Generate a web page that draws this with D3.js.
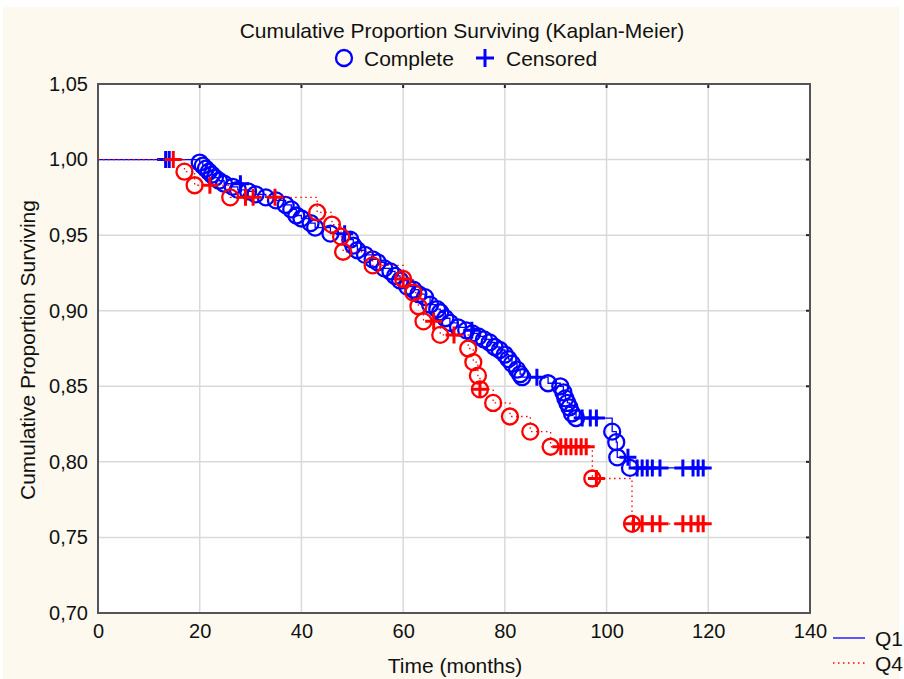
<!DOCTYPE html>
<html>
<head>
<meta charset="utf-8">
<script src="https://cdn.jsdelivr.net/npm/d3@7"></script>
<style>
  body { margin: 0; background: #ffffff; }
  text { font-family: "Liberation Sans", Arial, sans-serif; fill: #111; }
</style>
</head>
<body>
<div id="chart"></div>
<script>
// Q1 group: time (months), survival after event, 1 = complete, 0 = censored
const q1Time = [13.3, 14.0,
  20.0, 20.6, 21.2, 21.8, 22.4, 23.0, 23.8, 24.8, 28.0,
  26.5, 27.5, 29.5, 31.0, 33.0, 35.0,
  36.9, 38.0, 39.0, 40.0, 41.8, 42.7, 45.7, 48.5,
  49.6, 50.2, 51.0, 52.5, 54.0, 55.0, 56.3, 57.5, 58.4, 59.4,
  60.8, 62.0, 63.0, 64.3, 65.3, 66.7, 67.3, 68.3, 69.2, 70.8,
  72.4, 73.5, 73.6, 74.8, 75.9, 77.0, 78.0, 79.0, 80.0, 80.7, 81.4, 82.4, 83.0, 83.4,
  86.3, 88.5, 90.9, 91.5, 91.9, 92.3, 92.7, 93.2, 94.0,
  95.2, 96.8, 98.0,
  101.1, 101.9, 102.1, 104.2, 104.6,
  106, 107, 108, 109, 110.5, 115, 117, 118, 119];
const q1Surv = [1, 1,
  0.998, 0.996, 0.994, 0.992, 0.990, 0.988, 0.986, 0.984, 0.984,
  0.982, 0.980, 0.979, 0.977, 0.975, 0.973,
  0.970, 0.967, 0.963, 0.961, 0.958, 0.955, 0.951, 0.951,
  0.947, 0.943, 0.940, 0.937, 0.934, 0.932, 0.928, 0.926, 0.923, 0.920,
  0.916, 0.914, 0.911, 0.909, 0.904, 0.901, 0.899, 0.895, 0.892, 0.889,
  0.887, 0.887, 0.885, 0.883, 0.881, 0.879, 0.876, 0.874, 0.871, 0.868, 0.865, 0.861, 0.858, 0.856,
  0.856, 0.852, 0.850, 0.846, 0.842, 0.839, 0.836, 0.832, 0.829,
  0.829, 0.829, 0.829,
  0.820, 0.813, 0.803, 0.803, 0.796,
  0.796, 0.796, 0.796, 0.796, 0.796, 0.796, 0.796, 0.796, 0.796];
const q1Event = [0, 0,
  1, 1, 1, 1, 1, 1, 1, 1, 0,
  1, 1, 1, 1, 1, 1,
  1, 1, 1, 1, 1, 1, 1, 0,
  1, 1, 1, 1, 1, 1, 1, 1, 1, 1,
  1, 1, 1, 1, 1, 1, 1, 1, 1, 1,
  1, 0, 1, 1, 1, 1, 1, 1, 1, 1, 1, 1, 1, 1,
  0, 1, 1, 1, 1, 1, 1, 1, 1,
  0, 0, 0,
  1, 1, 1, 0, 1,
  0, 0, 0, 0, 0, 0, 0, 0, 0];

// Q4 group
const q4Time = [14.8, 17.0, 19.0, 22.0, 26.0, 29.0, 30.5, 34.8,
  43.1, 46.0, 47.8, 48.2, 54.0, 60.0, 60.0, 62.0, 63.0, 64.0, 66.0,
  67.3, 70.0, 72.8, 73.8, 74.7, 75.1, 75.1, 77.7, 81.0, 85.0, 89.0,
  91.0, 92.0, 93.0, 94.0, 95.0, 96.0,
  97.2, 98.0, 105.0, 105.3, 107.0, 109.0, 110.5, 115.0, 116.6, 118.0, 119.0];
const q4Surv = [1, 0.992, 0.983, 0.983, 0.975, 0.975, 0.975, 0.975,
  0.965, 0.957, 0.949, 0.939, 0.930, 0.921, 0.921, 0.912, 0.903, 0.893, 0.893,
  0.884, 0.884, 0.875, 0.866, 0.857, 0.848, 0.848, 0.839, 0.830, 0.820, 0.810,
  0.810, 0.810, 0.810, 0.810, 0.810, 0.810,
  0.789, 0.789, 0.759, 0.759, 0.759, 0.759, 0.759, 0.759, 0.759, 0.759, 0.759];
const q4Event = [0, 1, 1, 0, 1, 0, 0, 0,
  1, 1, 1, 1, 1, 1, 0, 1, 1, 1, 0,
  1, 0, 1, 1, 1, 1, 0, 1, 1, 1, 1,
  0, 0, 0, 0, 0, 0,
  1, 0, 1, 0, 0, 0, 0, 0, 0, 0, 0];

const xTicks = [0, 20, 40, 60, 80, 100, 120, 140];
const yTicks = [0.70, 0.75, 0.80, 0.85, 0.90, 0.95, 1.00, 1.05];

const width = 904, height = 679;
const box = { left: 98, right: 810, top: 84, bottom: 613 };

const svg = d3.select("#chart").append("svg")
  .attr("width", width)
  .attr("height", height);

// cream background with a thin white border
svg.append("rect")
  .attr("x", 3).attr("y", 7)
  .attr("width", 896).attr("height", 672)
  .attr("fill", "#fdf9ee");

const x = d3.scaleLinear().domain([0, 140]).range([box.left, box.right]);
const y = d3.scaleLinear().domain([0.70, 1.05]).range([box.bottom, box.top]);

svg.append("rect")
  .attr("x", box.left).attr("y", box.top)
  .attr("width", box.right - box.left).attr("height", box.bottom - box.top)
  .attr("fill", "#ffffff");

// grid
svg.append("g").selectAll("line")
  .data(xTicks.slice(1, -1))
  .join("line")
  .attr("x1", d => x(d)).attr("x2", d => x(d))
  .attr("y1", box.top).attr("y2", box.bottom)
  .attr("stroke", "#d9d9d9").attr("stroke-width", 1.5);
svg.append("g").selectAll("line")
  .data(yTicks.slice(1, -1))
  .join("line")
  .attr("y1", d => y(d)).attr("y2", d => y(d))
  .attr("x1", box.left).attr("x2", box.right)
  .attr("stroke", "#d9d9d9").attr("stroke-width", 1.5);

// axes
const fmt = d => d.toFixed(2).replace(".", ",");
const yAxis = svg.append("g")
  .attr("transform", `translate(${box.left},0)`)
  .call(d3.axisLeft(y).tickValues(yTicks).tickFormat(fmt).tickSize(0).tickPadding(10));
const xAxis = svg.append("g")
  .attr("transform", `translate(0,${box.bottom})`)
  .call(d3.axisBottom(x).tickValues(xTicks).tickFormat(d3.format("d")).tickSize(0).tickPadding(11));
[yAxis, xAxis].forEach(a => {
  a.select(".domain").remove();
  a.selectAll("text").attr("font-size", 20).attr("fill", "#111")
    .attr("font-family", "Liberation Sans, Arial, sans-serif");
});

// inward ticks on top and right
svg.append("g").selectAll("line")
  .data(xTicks)
  .join("line")
  .attr("x1", d => x(d)).attr("x2", d => x(d))
  .attr("y1", box.top).attr("y2", box.top + 4)
  .attr("stroke", "#222").attr("stroke-width", 2);
svg.append("g").selectAll("line")
  .data(yTicks)
  .join("line")
  .attr("y1", d => y(d)).attr("y2", d => y(d))
  .attr("x1", box.right - 4).attr("x2", box.right)
  .attr("stroke", "#222").attr("stroke-width", 2);

// frame
svg.append("rect")
  .attr("x", box.left).attr("y", box.top)
  .attr("width", box.right - box.left).attr("height", box.bottom - box.top)
  .attr("fill", "none").attr("stroke", "#555").attr("stroke-width", 2);

const series = [
  { t: q1Time, s: q1Surv, e: q1Event, color: "#0000ff", dash: null },
  { t: q4Time, s: q4Surv, e: q4Event, color: "#ff0000", dash: "1.5,3.5" }
];

const plot = svg.append("g");

series.forEach(sr => {
  const pts = sr.t.map((t, i) => ({ t: t, s: sr.s[i], e: sr.e[i] }));
  // step path
  const stepPts = [{ t: 0, s: 1 }].concat(pts);
  const line = d3.line()
    .x(d => x(d.t)).y(d => y(d.s))
    .curve(d3.curveStepAfter);
  plot.append("path")
    .datum(stepPts)
    .attr("d", line)
    .attr("fill", "none")
    .attr("stroke", sr.color)
    .attr("stroke-width", 1.3)
    .attr("stroke-dasharray", sr.dash);

  plot.append("g").selectAll("circle")
    .data(pts.filter(d => d.e === 1))
    .join("circle")
    .attr("cx", d => x(d.t)).attr("cy", d => y(d.s))
    .attr("r", 8)
    .attr("fill", "none")
    .attr("stroke", sr.color)
    .attr("stroke-width", 2.3);

  plot.append("g").selectAll("path")
    .data(pts.filter(d => d.e === 0))
    .join("path")
    .attr("d", d => {
      const cx = x(d.t), cy = y(d.s), h = 8.5;
      return `M${cx - h},${cy}H${cx + h}M${cx},${cy - h}V${cy + h}`;
    })
    .attr("stroke", sr.color)
    .attr("stroke-width", 3);
});

// titles
svg.append("text")
  .attr("x", 462).attr("y", 38)
  .attr("text-anchor", "middle")
  .attr("font-size", 21)
  .text("Cumulative Proportion Surviving (Kaplan-Meier)");

svg.append("circle")
  .attr("cx", 344).attr("cy", 58).attr("r", 8)
  .attr("fill", "none").attr("stroke", "#0000ff").attr("stroke-width", 2.3);
svg.append("text")
  .attr("x", 364).attr("y", 65.5)
  .attr("font-size", 21)
  .text("Complete");
svg.append("path")
  .attr("d", "M476,58H494M485,49V67")
  .attr("stroke", "#0000ff").attr("stroke-width", 3);
svg.append("text")
  .attr("x", 506).attr("y", 65.5)
  .attr("font-size", 21)
  .text("Censored");

svg.append("text")
  .attr("transform", "translate(35,350) rotate(-90)")
  .attr("text-anchor", "middle")
  .attr("font-size", 21)
  .text("Cumulative Proportion Surviving");

svg.append("text")
  .attr("x", 455).attr("y", 673)
  .attr("text-anchor", "middle")
  .attr("font-size", 21)
  .text("Time (months)");

// series legend at bottom right
const lg = [
  { name: "Q1", color: "#0000ff", dash: null, y: 638 },
  { name: "Q4", color: "#ff0000", dash: "1.5,3.5", y: 663 }
];
lg.forEach(l => {
  svg.append("line")
    .attr("x1", 833).attr("x2", 865)
    .attr("y1", l.y).attr("y2", l.y)
    .attr("stroke", l.color).attr("stroke-width", 1.3)
    .attr("stroke-dasharray", l.dash);
  svg.append("text")
    .attr("x", 875).attr("y", l.y + 8)
    .attr("font-size", 21)
    .text(l.name);
});
</script>
</body>
</html>
